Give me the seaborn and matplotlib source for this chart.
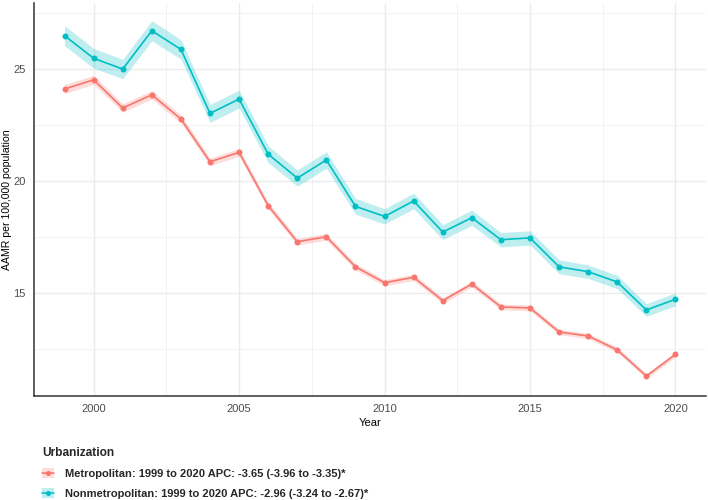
import numpy as np
import pandas as pd
import seaborn as sns
import matplotlib
matplotlib.use("Agg")
import matplotlib.pyplot as plt
from matplotlib.patches import Patch
from matplotlib.lines import Line2D

years = list(range(1999, 2021))
metro = [24.11, 24.52, 23.26, 23.85, 22.77, 20.86, 21.28, 18.90, 17.29, 17.51, 16.17,
         15.46, 15.70, 14.66, 15.40, 14.38, 14.33, 13.26, 13.08, 12.46, 11.29, 12.26]
metro_half_ci = [0.20, 0.20, 0.19, 0.19, 0.18, 0.17, 0.17, 0.16, 0.15, 0.15, 0.14,
                 0.14, 0.14, 0.13, 0.13, 0.13, 0.13, 0.12, 0.12, 0.12, 0.11, 0.12]
nonmetro = [26.49, 25.48, 25.00, 26.71, 25.88, 23.02, 23.66, 21.20, 20.13, 20.94, 18.87,
            18.42, 19.11, 17.72, 18.36, 17.38, 17.46, 16.17, 15.95, 15.49, 14.24, 14.72]
nonmetro_half_ci = [0.45, 0.44, 0.43, 0.45, 0.43, 0.40, 0.40, 0.38, 0.36, 0.37, 0.35,
                    0.34, 0.35, 0.33, 0.34, 0.32, 0.32, 0.31, 0.30, 0.30, 0.28, 0.29]

labels = ["Metropolitan: 1999 to 2020 APC: -3.65 (-3.96 to -3.35)*",
          "Nonmetropolitan: 1999 to 2020 APC: -2.96 (-3.24 to -2.67)*"]
colors = ["#F8766D", "#00BFC4"]

df = pd.DataFrame({
    "Year": years * 2,
    "AAMR": metro + nonmetro,
    "half": metro_half_ci + nonmetro_half_ci,
    "Urbanization": [labels[0]] * len(years) + [labels[1]] * len(years),
})

sns.set_theme(style="white")
plt.rcParams["font.family"] = ["Liberation Sans", "DejaVu Sans"]

fig = plt.figure(figsize=(7.08, 5.0), dpi=100)
ax = fig.add_axes([34 / 708, 1 - 396 / 500, (706 - 34) / 708, (396 - 3) / 500])

for lab, col in zip(labels, colors):
    sub = df[df["Urbanization"] == lab]
    ax.fill_between(sub["Year"], sub["AAMR"] - sub["half"], sub["AAMR"] + sub["half"],
                    color=col, alpha=0.25, linewidth=0, zorder=2)

sns.lineplot(data=df, x="Year", y="AAMR", hue="Urbanization", palette=colors,
             marker="o", markersize=4.3, markeredgewidth=0, linewidth=1.2,
             ax=ax, legend=False, zorder=3)

ax.set_xlim(1997.95, 2021.05)
ax.set_ylim(10.4, 27.95)
ax.set_xticks([2000, 2005, 2010, 2015, 2020])
ax.set_yticks([15, 20, 25])
ax.set_xticks([2002.5, 2007.5, 2012.5, 2017.5], minor=True)
ax.set_yticks([12.5, 17.5, 22.5, 27.5], minor=True)
ax.grid(True, which="major", color="#EBEBEB", linewidth=1.0, zorder=0)
ax.grid(True, which="minor", color="#F2F2F2", linewidth=0.7, zorder=0)
ax.set_axisbelow(True)
for s in ["top", "right"]:
    ax.spines[s].set_visible(False)
for s in ["left", "bottom"]:
    ax.spines[s].set_color("#333333")
    ax.spines[s].set_linewidth(1.1)
ax.tick_params(axis="both", which="both", length=0, labelsize=8, labelcolor="#4D4D4D", pad=6)
ax.set_xlabel("Year", fontsize=8, color="black", labelpad=3)
ax.set_ylabel("AAMR per 100,000 population", fontsize=7.6, color="black")
ax.yaxis.set_label_coords(-22 / 672, 0.5)

handles = []
for col in colors:
    patch = Patch(facecolor=col, alpha=0.25, edgecolor="none")
    line = Line2D([], [], color=col, marker="o", markersize=3.6, markeredgewidth=0, linewidth=1.1)
    handles.append((patch, line))
leg = fig.legend(handles, labels, title="Urbanization", loc="upper left",
                 bbox_to_anchor=(42 / 708, 1 - 447 / 500), frameon=False,
                 borderaxespad=0, borderpad=0,
                 prop={"size": 8, "weight": "bold"}, handlelength=1.1, handleheight=0.9,
                 labelspacing=0.85, alignment="left", handletextpad=1.0)
leg.get_title().set_fontsize(8.6)
leg.get_title().set_fontweight("bold")

fig.savefig("out.png", dpi=100)
